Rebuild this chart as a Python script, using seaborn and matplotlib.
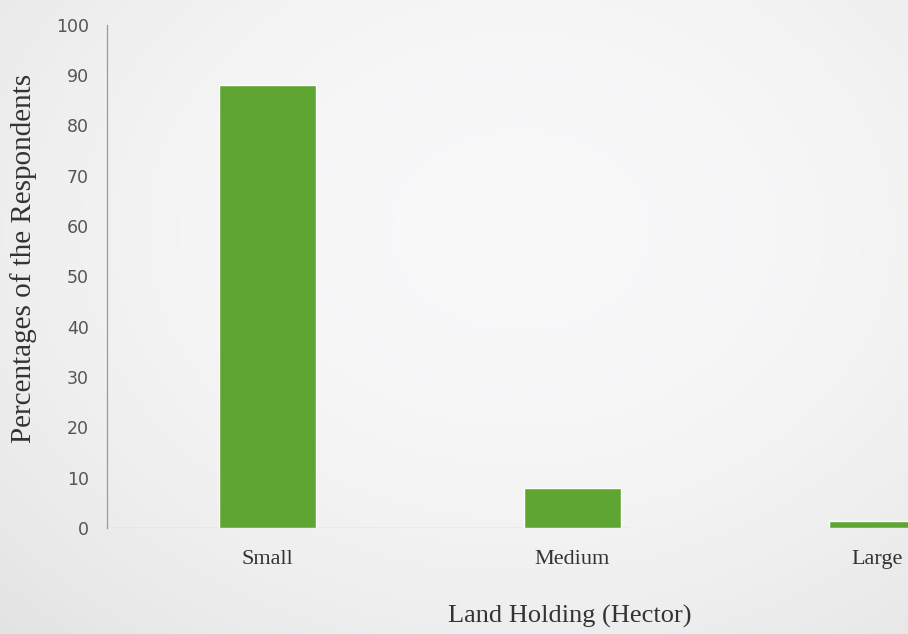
import matplotlib
matplotlib.use("Agg")
import matplotlib.pyplot as plt
import seaborn as sns
import pandas as pd
import numpy as np

# Land holding categories and share of respondents (%)
categories = ["Small", "Medium", "Large"]
percentages = [88.0, 8.0, 1.5]
y_ticks = [0, 10, 20, 30, 40, 50, 60, 70, 80, 90, 100]

df = pd.DataFrame({"holding": categories, "pct": percentages})

sns.set_theme(style="white")
W, H = 908, 634
fig = plt.figure(figsize=(W / 100, H / 100), dpi=100, facecolor="#eeeeee")

# soft paper-like background with a brighter middle
yy, xx = np.mgrid[0:H, 0:W]
r = np.sqrt(((xx - 520) / 620.0) ** 2 + ((yy - 230) / 480.0) ** 2)
shade = np.clip(0.975 - 0.06 * r ** 2, 0.89, 0.98)
bg_img = np.dstack([shade, shade, shade * 1.005])
fig.figimage(np.clip(bg_img, 0, 1), xo=0, yo=0, origin="upper", zorder=0)

ax = fig.add_axes([0.118, 0.167, 0.882, 0.794])
ax.set_zorder(2)
ax.set_facecolor("none")

sns.barplot(data=df, x="holding", y="pct", color="#5fa532",
            width=0.32, saturation=1, ax=ax)

ax.set_xlim(-0.525, 2.10)
ax.set_ylim(0, 100)
ax.set_yticks(y_ticks)
ax.set_yticklabels([str(t) for t in y_ticks], fontfamily="DejaVu Sans",
                   fontsize=12.5, color="#555555")
ax.tick_params(axis="y", length=0, pad=13)
ax.tick_params(axis="x", length=0, pad=16)
for lbl in ax.get_xticklabels():
    lbl.set_fontfamily("Liberation Serif")
    lbl.set_fontsize(16)
    lbl.set_color("#333333")

ax.set_ylabel("Percentages of the Respondents", fontfamily="Liberation Serif",
              fontsize=21, color="#333333")
ax.set_xlabel("Land Holding (Hector)", fontfamily="Liberation Serif",
              fontsize=19, color="#333333")
ax.yaxis.set_label_coords(-0.087, 0.535)
ax.xaxis.set_label_coords(0.578, -0.152)

for side in ["top", "right", "bottom"]:
    ax.spines[side].set_visible(False)
ax.spines["left"].set_color("#9a9a9a")
ax.spines["left"].set_linewidth(0.9)
ax.axhline(0, color="#d2d2d2", linewidth=1.0, xmax=0.65, zorder=0)

fig.savefig("out.png", dpi=100)
